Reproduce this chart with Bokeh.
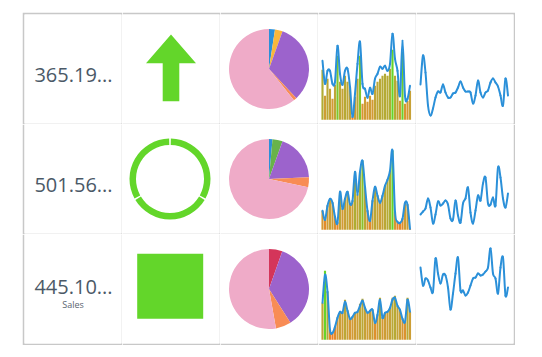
import math
from bokeh.plotting import figure
from bokeh.layouts import gridplot, row, column
from bokeh.models import Range1d, Spacer, ColumnDataSource, LinearColorMapper
from bokeh.core.properties import value
from bokeh.embed import file_html
from bokeh.resources import INLINE

# ---------------- data ----------------
KPI_LABELS = ["365.19...", "501.56...", "445.10..."]
KPI_SUBTITLES = ["", "", "Sales"]
INDICATORS = ["arrow", "ring", "square"]
RING_PARTS = [1, 1, 1]

PIE1_VALUES = [2.4, 3.1, 32.5, 1.3, 60.7]
PIE2_VALUES = [1.4, 4.1, 18.8, 4.0, 71.7]
PIE3_VALUES = [5.4, 35.6, 6.2, 52.8]

LINE_R1 = [59, 36, 49, 49, 36, 38, 74, 46, 35, 49, 51, 33, 3, 26, 56, 78, 36, 31,
           22, 32, 26, 41, 46, 53, 51, 54, 49, 56, 86, 61, 49, 24, 79, 24, 21, 34]
BARS_R1 = [50, 24, 41, 31, 21, 35, 64, 38, 31, 44, 38, 33, 3, 23, 41, 64, 16, 23,
           18, 24, 20, 34, 38, 41, 44, 46, 44, 51, 70, 44, 39, 19, 68, 16, 19, 29]
LINE_R2 = [19, 10, 24, 31, 27, 13, 7, 38, 21, 31, 38, 26, 29, 58, 35, 58, 69, 43,
           19, 9, 29, 43, 34, 27, 34, 44, 50, 59, 79, 18, 8, 7, 11, 27, 25, 1]
BARS_R2 = [19, 10, 24, 31, 27, 13, 7, 38, 21, 31, 38, 26, 29, 58, 35, 58, 69, 43,
           19, 9, 29, 43, 34, 27, 34, 44, 50, 59, 79, 18, 8, 7, 11, 27, 25, 1]
LINE_R3 = [37, 65, 48, 10, 7, 13, 22, 28, 27, 38, 29, 21, 23, 27, 28, 34, 39, 32,
           27, 29, 30, 17, 25, 40, 22, 27, 28, 32, 40, 42, 34, 30, 21, 18, 40, 28]
BARS_R3 = [37, 69, 48, 10, 7, 13, 22, 28, 27, 40, 29, 21, 23, 27, 28, 36, 41, 32,
           27, 29, 30, 17, 25, 42, 22, 27, 28, 32, 42, 44, 34, 30, 21, 18, 42, 28]

SPARK_R1 = [36, 65, 48, 15, 5, 12, 23, 29, 28, 36, 28, 23, 23, 27, 28, 33, 39, 33,
            29, 29, 28, 17, 25, 40, 28, 23, 28, 30, 38, 42, 38, 34, 25, 15, 42, 25]
SPARK_R2 = [16, 19, 22, 32, 23, 7, 16, 29, 25, 27, 30, 26, 12, 11, 30, 15, 8, 27,
            32, 43, 18, 7, 20, 35, 30, 47, 53, 27, 26, 33, 25, 63, 53, 32, 23, 37]
SPARK_R3 = [73, 55, 62, 60, 53, 49, 82, 67, 57, 66, 65, 53, 31, 47, 67, 83, 50, 50,
            45, 48, 55, 62, 63, 67, 65, 66, 69, 73, 92, 67, 62, 47, 73, 83, 45, 53]

# ---------------- style ----------------
BORDER = "#c8c8c8"
GREEN = "#63d62a"
BLUE = "#2b90d9"
TEXT = "#4b5967"
PIE_COLORS = [
    ["#2b90d9", "#f9b73a", "#9c63cc", "#f88c55", "#efabc8"],
    ["#2b90d9", "#68b34a", "#9c63cc", "#f88c55", "#efabc8"],
    ["#d4355a", "#9c63cc", "#f88c55", "#efabc8"],
]
BAR_STOPS = ["#ee7f22", "#d39a35", "#bea636", "#adad32", "#66d42a"]
CELL_W, CELL_H = 98, 110
NROWS, NCOLS = 3, 5
FONT = value("Open Sans")


def hex2rgb(h):
    h = h.lstrip("#")
    return [int(h[i:i + 2], 16) for i in (0, 2, 4)]


def make_palette(stops, n=256):
    cols = [hex2rgb(s) for s in stops]
    out = []
    for k in range(n):
        t = k / (n - 1) * (len(cols) - 1)
        i = min(int(t), len(cols) - 2)
        f = t - i
        c = [round(cols[i][j] + (cols[i + 1][j] - cols[i][j]) * f) for j in range(3)]
        out.append("#%02x%02x%02x" % tuple(c))
    return out


BAR_PALETTE = make_palette(BAR_STOPS)


def cell(r, c, xr, yr):
    left = 2 if c == 0 else 0
    top = 2 if r == 0 else 0
    right = 2 if c == NCOLS - 1 else 1
    bottom = 2 if r == NROWS - 1 else 1
    f = figure(width=CELL_W - 1 + left + right, height=CELL_H - 1 + top + bottom,
               x_range=xr, y_range=yr,
               output_backend="svg", toolbar_location=None,
               x_axis_location=None, y_axis_location=None,
               min_border_left=left, min_border_right=right,
               min_border_top=top, min_border_bottom=bottom,
               border_fill_color=BORDER, background_fill_color="white",
               outline_line_color=None)
    f.grid.visible = False
    return f


def center_ranges():
    return Range1d(-48.5, 48.5), Range1d(-54.5, 54.5)


def spark_ranges(n_bottom):
    return Range1d(-1.6, -1.6 + 97 / 2.5), Range1d(-n_bottom, 109 - n_bottom)


def smooth(f, ys):
    """Draw a smooth (Catmull-Rom) curve through the data points with Bezier segments."""
    n = len(ys)
    d = dict(x0=[], y0=[], x1=[], y1=[], cx0=[], cy0=[], cx1=[], cy1=[])
    for i in range(n - 1):
        a = max(i - 1, 0)
        b = min(i + 2, n - 1)
        d["x0"].append(i)
        d["y0"].append(ys[i])
        d["x1"].append(i + 1)
        d["y1"].append(ys[i + 1])
        d["cx0"].append(i + (i + 1 - a) / 6)
        d["cy0"].append(ys[i] + (ys[i + 1] - ys[a]) / 6)
        d["cx1"].append(i + 1 - (b - i) / 6)
        d["cy1"].append(ys[i + 1] - (ys[b] - ys[i]) / 6)
    f.bezier(x0="x0", y0="y0", x1="x1", y1="y1", cx0="cx0", cy0="cy0",
             cx1="cx1", cy1="cy1", source=ColumnDataSource(d),
             line_color=BLUE, line_width=2, line_cap="round")


def kpi_cell(r):
    xr, yr = center_ranges()
    f = cell(r, 0, xr, yr)
    main_y = 1.8 if KPI_SUBTITLES[r] else -5.8
    f.text(x=[0.5], y=[main_y], text=[KPI_LABELS[r]], text_font=FONT,
           text_font_size="20px", text_align="center", text_baseline="alphabetic",
           text_color=TEXT)
    if KPI_SUBTITLES[r]:
        f.text(x=[0], y=[-15.5], text=[KPI_SUBTITLES[r]], text_font=FONT,
               text_font_size="9px", text_align="center", text_baseline="alphabetic",
               text_color="#5a6570")
    return f


def indicator_cell(r):
    xr, yr = center_ranges()
    f = cell(r, 1, xr, yr)
    kind = INDICATORS[r]
    if kind == "arrow":
        head_w, head_h, shaft_w, shaft_h = 50, 28.7, 16.6, 38
        base = shaft_h - 32.2
        xs = [-shaft_w / 2, -shaft_w / 2, -head_w / 2, 0, head_w / 2, shaft_w / 2, shaft_w / 2]
        ys = [base - shaft_h, base, base, base + head_h, base, base, base - shaft_h]
        f.patch(xs, ys, fill_color=GREEN, line_color=None)
    elif kind == "ring":
        tot = sum(RING_PARTS)
        gap = 2.4
        cum = 0
        starts, ends = [], []
        for v in RING_PARTS:
            a0 = cum / tot * 360 + gap / 2
            cum += v
            a1 = cum / tot * 360 - gap / 2
            starts.append(math.radians(90 - a0))
            ends.append(math.radians(90 - a1))
        f.annular_wedge(x=[-1] * len(starts), y=[0] * len(starts), inner_radius=34,
                        outer_radius=40.5, inner_radius_units="screen",
                        outer_radius_units="screen", start_angle=starts,
                        end_angle=ends, direction="clock", fill_color=GREEN,
                        line_color=None)
    else:
        f.rect(x=[-0.8], y=[2.7], width=66, height=65, width_units="screen",
               height_units="screen", fill_color=GREEN, line_color=None)
    return f


def pie_cell(r, vals):
    xr, yr = center_ranges()
    f = cell(r, 2, xr, yr)
    tot = sum(vals)
    cum = 0
    starts, ends = [], []
    for v in vals:
        starts.append(math.pi / 2 - 2 * math.pi * cum / tot)
        cum += v
        ends.append(math.pi / 2 - 2 * math.pi * cum / tot)
    f.wedge(x=[0] * len(vals), y=[0] * len(vals), radius=40, radius_units="screen",
            start_angle=starts, end_angle=ends, direction="clock",
            fill_color=PIE_COLORS[r], line_color=None)
    return f


def combo_cell(r, bars, line, b):
    xr, yr = spark_ranges(b)
    f = cell(r, 3, xr, yr)
    mapper = LinearColorMapper(palette=BAR_PALETTE, low=min(bars), high=max(bars))
    src = ColumnDataSource(dict(x=list(range(len(bars))), top=bars))
    f.vbar(x="x", top="top", width=0.85, source=src,
           fill_color={"field": "top", "transform": mapper}, line_color=None)
    smooth(f, line)
    return f


def spark_cell(r, line):
    xr, yr = spark_ranges(3)
    f = cell(r, 4, xr, yr)
    smooth(f, line)
    return f


pies = [PIE1_VALUES, PIE2_VALUES, PIE3_VALUES]
combos = [(BARS_R1, LINE_R1, 3.7), (BARS_R2, LINE_R2, 3.7), (BARS_R3, LINE_R3, 3.7)]
sparks = [SPARK_R1, SPARK_R2, SPARK_R3]

rows = []
for r in range(NROWS):
    rows.append([
        kpi_cell(r),
        indicator_cell(r),
        pie_cell(r, pies[r]),
        combo_cell(r, *combos[r]),
        spark_cell(r, sparks[r]),
    ])

grid = gridplot(rows, toolbar_location=None)
layout = column(Spacer(height=12), row(Spacer(width=22), grid))

open("out.html", "w").write(file_html(layout, INLINE))
